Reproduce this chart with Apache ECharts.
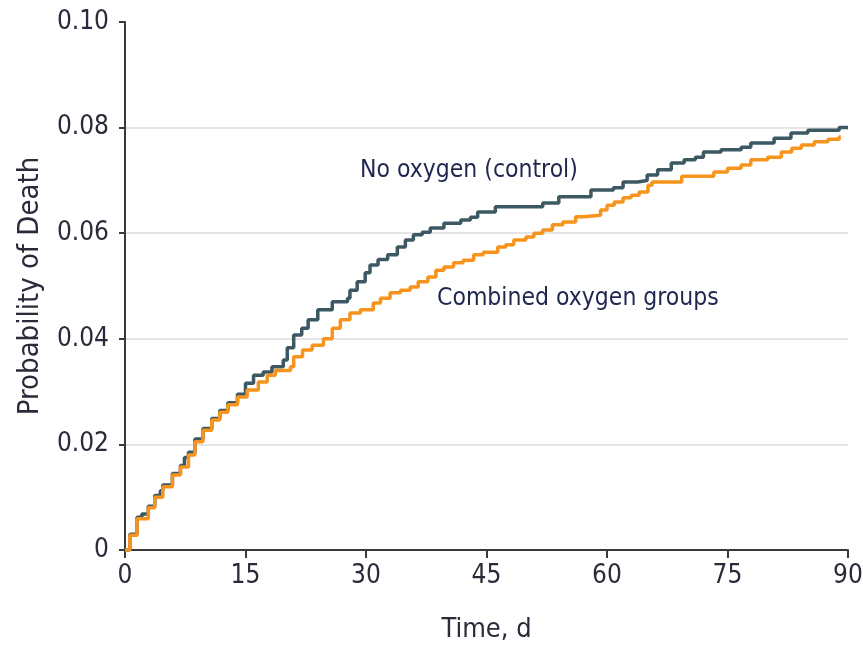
<!DOCTYPE html>
<html>
<head>
<meta charset="utf-8">
<script src="https://cdn.jsdelivr.net/npm/echarts@6/dist/echarts.min.js"></script>
<style>html,body{margin:0;padding:0;background:#fff;}#c{width:863px;height:652px;}</style>
</head>
<body>
<div id="c"></div>
<script>
// Kaplan-Meier style cumulative probability of death: [day, probability]
var controlSteps = [[0,0],[0.6,0.003],[1.5,0.0062],[2.1,0.0068],[2.9,0.0083],[3.7,0.0103],[4.4,0.0112],[4.7,0.0123],[5.9,0.0145],[6.9,0.016],[7.4,0.0175],[7.9,0.0185],[8.7,0.021],[9.7,0.023],[10.8,0.0249],[11.8,0.0264],[12.8,0.0279],[14.0,0.0295],[15,0.0316],[16,0.0331],[17.2,0.0337],[18.3,0.0347],[19.7,0.036],[20.2,0.0383],[21,0.0407],[22,0.042],[22.8,0.0436],[24,0.0455],[25.8,0.047],[27.7,0.0477],[28,0.0492],[28.9,0.0508],[29.9,0.0525],[30.5,0.054],[31.5,0.055],[32.7,0.0559],[33.9,0.0574],[34.9,0.0587],[35.9,0.0597],[37,0.0602],[38,0.061],[39.7,0.0619],[41.8,0.0625],[43,0.063],[43.9,0.064],[46.1,0.065],[52,0.0657],[54,0.0669],[58,0.0682],[60.8,0.0686],[62,0.0697],[63.8,0.070],[65,0.071],[66.3,0.072],[68,0.0733],[69.6,0.0739],[71,0.0744],[72,0.0754],[74.2,0.0758],[76.7,0.0763],[77.9,0.0771],[80.8,0.078],[82.9,0.079],[85,0.0795],[88.9,0.080],[90,0.080]];
var combinedSteps = [[0,0],[0.6,0.0028],[1.5,0.0059],[2.9,0.008],[3.7,0.010],[4.7,0.012],[5.9,0.0142],[6.9,0.0157],[7.9,0.018],[8.7,0.0205],[9.7,0.0227],[10.8,0.0246],[11.8,0.0261],[12.8,0.0275],[14.0,0.029],[15.2,0.0303],[16.6,0.0318],[17.7,0.0331],[18.7,0.034],[20.6,0.0347],[21,0.0366],[22.1,0.0379],[23.3,0.0388],[24.7,0.040],[25.8,0.042],[26.8,0.0436],[28,0.0449],[29.3,0.0455],[30.9,0.0468],[31.8,0.0477],[33,0.0487],[34.3,0.0492],[35.5,0.0498],[36.5,0.0508],[37.7,0.0517],[38.7,0.053],[39.7,0.0536],[40.9,0.0544],[42.1,0.0549],[43.4,0.0559],[44.6,0.0564],[46.4,0.0574],[47.4,0.0578],[48.4,0.0587],[49.9,0.0593],[50.9,0.06],[52,0.0606],[53.2,0.0616],[54.5,0.0621],[56.1,0.0631],[57.1,0.0634],[59.2,0.0644],[60,0.0653],[60.9,0.0659],[62,0.0667],[63,0.0672],[64,0.0678],[65.1,0.0691],[65.6,0.0697],[69.3,0.0708],[73.3,0.0716],[75,0.0723],[76.7,0.0729],[77.9,0.0739],[80,0.0744],[81.7,0.0754],[83,0.0761],[84.2,0.0767],[85.8,0.0773],[87.5,0.0778],[88.9,0.0782],[89.1,0.0782]];
var seriesNames = ['No oxygen (control)', 'Combined oxygen groups'];
var xTicks = [0, 15, 30, 45, 60, 75, 90];
var yTicks = [0, 0.02, 0.04, 0.06, 0.08, 0.10];
var xTitle = 'Time, d';
var yTitle = 'Probability of Death';

var FONT = "'DejaVu Sans Condensed', 'Liberation Sans Narrow', 'Liberation Sans', sans-serif";
var chart = echarts.init(document.getElementById('c'), null, {renderer: 'canvas'});
chart.setOption({
  animation: false,
  backgroundColor: '#fff',
  grid: {left: 125, right: 15, top: 22, bottom: 102, containLabel: false, outerBoundsMode: 'none'},
  xAxis: {
    type: 'value', min: xTicks[0], max: xTicks[xTicks.length - 1], interval: 15,
    name: xTitle, nameLocation: 'middle', nameGap: 66,
    nameTextStyle: {fontFamily: FONT, fontSize: 27, color: '#2a2a3a'},
    axisLine: {lineStyle: {color: '#3a3a3a', width: 2}},
    axisTick: {show: true, length: 8, lineStyle: {color: '#3a3a3a', width: 2}},
    axisLabel: {fontFamily: FONT, fontSize: 26, color: '#2a2a3a', margin: 13},
    splitLine: {show: false}
  },
  yAxis: {
    type: 'value', min: yTicks[0], max: yTicks[yTicks.length - 1], interval: 0.02,
    name: yTitle, nameLocation: 'middle', nameGap: 80, nameRotate: 90,
    nameTextStyle: {fontFamily: FONT, fontSize: 29, color: '#2a2a3a'},
    axisLine: {show: true, lineStyle: {color: '#3a3a3a', width: 2}},
    axisTick: {show: true, length: 6, lineStyle: {color: '#3a3a3a', width: 2}},
    axisLabel: {fontFamily: FONT, fontSize: 26, color: '#2a2a3a', margin: 16,
      formatter: function (v) { return v === 0 ? '0' : v.toFixed(2); }},
    splitLine: {show: true, showMinLine: false, showMaxLine: false, lineStyle: {color: '#dcdcdc', width: 1.5}}
  },
  series: [
    {name: seriesNames[1], type: 'line', step: 'end', data: combinedSteps, showSymbol: false,
     lineStyle: {color: '#f7941d', width: 3.5}, z: 2},
    {name: seriesNames[0], type: 'line', step: 'end', data: controlSteps, showSymbol: false,
     lineStyle: {color: '#3c5863', width: 3.5}, z: 1}
  ],
  graphic: [
    {type: 'text', left: 360, top: 158, style: {text: seriesNames[0], font: '24.5px ' + FONT, fill: '#1f2650'}},
    {type: 'text', left: 437, top: 286, style: {text: seriesNames[1], font: '24.5px ' + FONT, fill: '#1f2650'}}
  ]
});
</script>
</body>
</html>
